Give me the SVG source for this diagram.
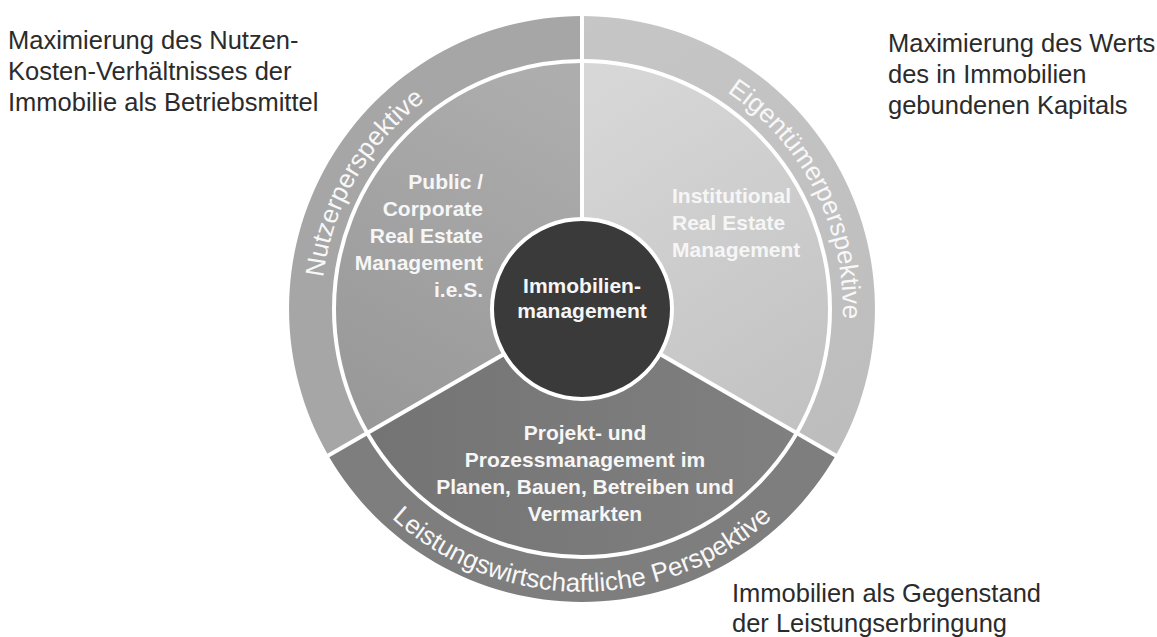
<svg xmlns="http://www.w3.org/2000/svg" width="1157" height="637" viewBox="0 0 1157 637">
<style>
.out{font-family:"Liberation Sans",Arial,sans-serif;font-size:25.5px;fill:#2b2b2b}
.sec{font-family:"Liberation Sans",Arial,sans-serif;font-size:21px;font-weight:bold;fill:#f6f6f6}
.ring{font-family:"Liberation Sans",Arial,sans-serif;font-size:26px;fill:#f8f8f8}
.sep{stroke:#ffffff;stroke-width:4;fill:none}
</style>
<defs>
<linearGradient id="gL" x1="560" y1="90" x2="380" y2="430" gradientUnits="userSpaceOnUse"><stop offset="0" stop-color="#adadad"/><stop offset="1" stop-color="#989898"/></linearGradient>
<linearGradient id="gR" x1="600" y1="90" x2="810" y2="420" gradientUnits="userSpaceOnUse"><stop offset="0" stop-color="#d7d7d7"/><stop offset="1" stop-color="#c2c2c2"/></linearGradient>
<linearGradient id="gRR" x1="582" y1="16" x2="840" y2="450" gradientUnits="userSpaceOnUse"><stop offset="0" stop-color="#c6c6c6"/><stop offset="1" stop-color="#bdbdbd"/></linearGradient>
<linearGradient id="gB" x1="370" y1="440" x2="800" y2="440" gradientUnits="userSpaceOnUse"><stop offset="0" stop-color="#747474"/><stop offset="1" stop-color="#808080"/></linearGradient>
<path id="pN" d="M432.3,522.8 A261,261 0 0 1 692.3,72.5"/>
<path id="pE" d="M484.2,67.0 A261,261 0 0 1 720.3,530.3"/>
<path id="pL" d="M300.1,333.7 A283,283 0 0 0 863.9,333.7"/>
</defs>
<rect width="1157" height="637" fill="#ffffff"/>

<g id="nutzer">
<path d="M328.3,455.5 A293,293 0 0 1 582,16 L582,61 A248,248 0 0 0 367.2,433.0 Z" fill="#a6a6a6"/>
<path d="M582,309 L367.2,433.0 A248,248 0 0 1 582,61 Z" fill="url(#gL)"/>
<text class="ring"><textPath href="#pN" startOffset="50%" text-anchor="middle">Nutzerperspektive</textPath></text>
<text class="sec" text-anchor="end"><tspan x="483" y="189">Public /</tspan><tspan x="483" y="216">Corporate</tspan><tspan x="483" y="243">Real Estate</tspan><tspan x="483" y="270">Management</tspan><tspan x="483" y="297">i.e.S.</tspan></text>
</g>

<g id="eigentuemer">
<path d="M582,16 A293,293 0 0 1 835.7,455.5 L796.8,433.0 A248,248 0 0 0 582,61 Z" fill="url(#gRR)"/>
<path d="M582,309 L582,61 A248,248 0 0 1 796.8,433.0 Z" fill="url(#gR)"/>
<text class="ring"><textPath href="#pE" startOffset="50%" text-anchor="middle">Eigentümerperspektive</textPath></text>
<text class="sec"><tspan x="672" y="203">Institutional</tspan><tspan x="672" y="230">Real Estate</tspan><tspan x="672" y="257">Management</tspan></text>
</g>

<g id="leistung">
<path d="M835.7,455.5 A293,293 0 0 1 328.3,455.5 L367.2,433.0 A248,248 0 0 0 796.8,433.0 Z" fill="#7e7e7e"/>
<path d="M582,309 L796.8,433.0 A248,248 0 0 1 367.2,433.0 Z" fill="url(#gB)"/>
<text class="ring"><textPath href="#pL" startOffset="50%" text-anchor="middle">Leistungswirtschaftliche Perspektive</textPath></text>
<text class="sec" text-anchor="middle"><tspan x="585" y="440">Projekt- und</tspan><tspan x="585" y="467">Prozessmanagement im</tspan><tspan x="585" y="494">Planen, Bauen, Betreiben und</tspan><tspan x="585" y="521">Vermarkten</tspan></text>
</g>

<g id="connectors">
<circle class="sep" cx="582" cy="309" r="248" stroke-width="3"/>
<line class="sep" x1="582" y1="309" x2="582" y2="14"/>
<line class="sep" x1="582" y1="309" x2="326.6" y2="456.5"/>
<line class="sep" x1="582" y1="309" x2="837.4" y2="456.5"/>
</g>

<g id="center">
<circle cx="582" cy="309" r="90" fill="#3a3a3a" stroke="#ffffff" stroke-width="4"/>
<text class="sec" text-anchor="middle" fill="#ffffff"><tspan x="582" y="293">Immobilien-</tspan><tspan x="582" y="318">management</tspan></text>
</g>

<g id="labels">
<text class="out"><tspan x="8" y="49">Maximierung des Nutzen-</tspan><tspan x="8" y="80">Kosten-Verhältnisses der</tspan><tspan x="8" y="111">Immobilie als Betriebsmittel</tspan></text>
<text class="out"><tspan x="888" y="52">Maximierung des Werts</tspan><tspan x="888" y="83">des in Immobilien</tspan><tspan x="888" y="114">gebundenen Kapitals</tspan></text>
<text class="out"><tspan x="732" y="602">Immobilien als Gegenstand</tspan><tspan x="732" y="632">der Leistungserbringung</tspan></text>
</g>
</svg>
